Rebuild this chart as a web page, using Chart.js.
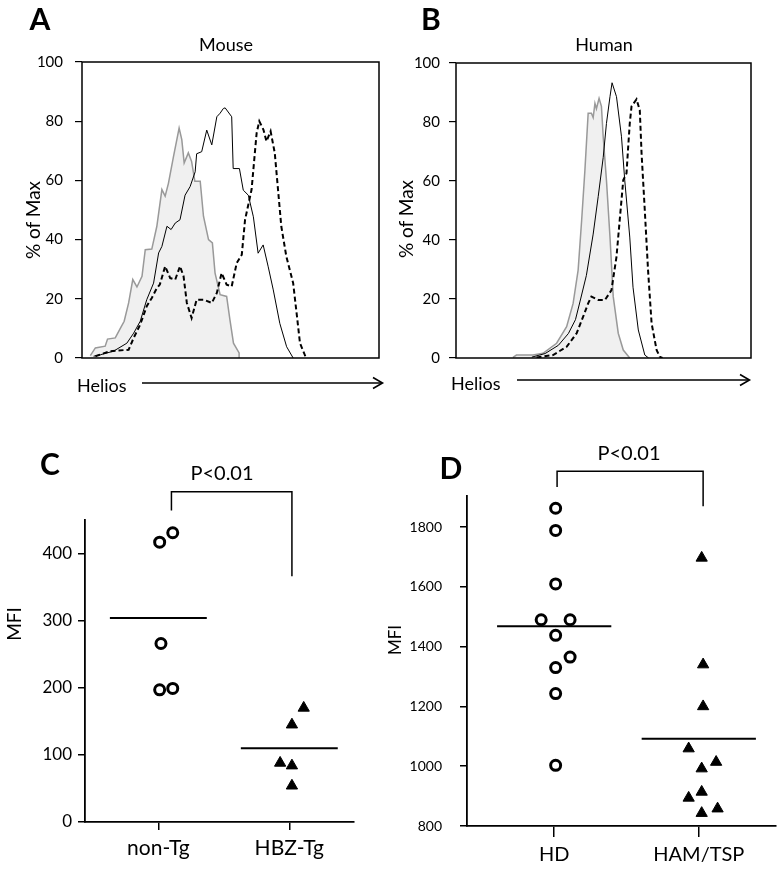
<!DOCTYPE html>
<html>
<head>
<meta charset="utf-8">
<script src="https://cdn.jsdelivr.net/npm/chart.js@4.4.0/dist/chart.umd.min.js"></script>
<style>
  body { margin: 0; background: #fff; }
  #page { position: relative; width: 784px; height: 870px; overflow: hidden; font-family: Lato, sans-serif; color: #000; }
  #page canvas { position: absolute; }
  .lbl { position: absolute; white-space: nowrap; line-height: 1; }
</style>
</head>
<body>
<div id="page">
  <canvas id="chartA" width="392" height="400" style="left:0;top:0;width:392px;height:400px"></canvas>
  <canvas id="chartB" width="392" height="400" style="left:392px;top:0;width:392px;height:400px"></canvas>
  <canvas id="chartC" width="392" height="450" style="left:0;top:420px;width:392px;height:450px"></canvas>
  <canvas id="chartD" width="392" height="450" style="left:392px;top:420px;width:392px;height:450px"></canvas>
  <svg width="784" height="870" style="position:absolute;left:0;top:0;pointer-events:none">
    <g stroke="#000" stroke-width="1.6" fill="none">
      <line x1="142" y1="383" x2="382" y2="383"/>
      <polyline points="373,377.5 382.5,383 373,388.5"/>
      <line x1="517" y1="380" x2="749" y2="380"/>
      <polyline points="740,374.5 749.5,380 740,385.5"/>
    </g>
  </svg>
</div>
<script>
// ---- data ----
// histograms: x = Helios intensity (0-100 across the plot), y = % of Max
const histTicks = [0, 20, 40, 60, 80, 100];

// A: mouse
const mouseIsoX = [2.8, 4.5, 7.8, 8.6, 11.2, 12.9, 14.2, 15.7, 17.1, 18.5, 20.2, 21.3, 23.5, 25.2, 26.9, 28.0, 29.1, 30.8, 32.7, 33.6, 34.4, 35.8, 36.9, 38.0, 39.8, 40.9, 42.6, 43.9, 44.8, 46.5, 48.7, 49.8, 51.0, 52.9, 52.9];
const mouseIsoY = [0.8, 3.4, 4.0, 6.4, 6.8, 10.0, 12.4, 18.6, 26.5, 24.0, 27.6, 36.6, 36.8, 44.5, 56.9, 54.7, 59.0, 68.0, 77.7, 73.8, 65.9, 69.3, 66.4, 59.7, 59.7, 47.9, 40.0, 38.9, 28.7, 21.4, 20.8, 13.0, 5.0, 1.7, 0];
const mouseNonTgX = [3.9, 6.2, 10.6, 15.1, 17.4, 19.6, 21.8, 24.1, 25.8, 26.9, 28.6, 30.0, 31.4, 33.0, 34.7, 36.4, 38.1, 38.6, 40.3, 42.0, 43.7, 45.4, 46.5, 47.6, 48.2, 50.4, 50.9, 53.0, 54.3, 56.0, 57.7, 59.3, 61.0, 62.7, 64.4, 66.6, 68.9, 71.1];
const mouseNonTgY = [0.6, 1.1, 2.3, 5.0, 8.4, 12.4, 19.7, 25.3, 35.5, 37.7, 44.5, 43.4, 45.6, 46.7, 55.0, 57.9, 62.9, 69.0, 69.7, 77.0, 72.0, 81.5, 82.7, 84.3, 84.5, 81.5, 64.0, 64.0, 56.7, 55.0, 47.7, 35.4, 38.2, 30.8, 23.0, 11.7, 3.8, 0];
const mouseHbzX = [4.5, 9.5, 15.7, 17.4, 19.6, 21.8, 23.5, 25.2, 26.2, 28.0, 29.7, 31.4, 33.0, 34.2, 35.3, 36.9, 38.6, 40.9, 43.7, 45.4, 47.0, 48.7, 50.4, 52.1, 53.8, 54.9, 56.0, 57.1, 58.2, 58.8, 59.7, 61.1, 62.1, 63.5, 64.9, 66.0, 67.1, 68.8, 71.1, 72.5, 73.4, 75.0, 75.4];
const mouseHbzY = [0.6, 2.3, 2.8, 6.8, 11.3, 17.5, 20.3, 23.6, 24.8, 31.0, 27.0, 26.5, 31.0, 27.6, 18.6, 13.5, 19.7, 19.7, 18.6, 22.0, 28.7, 24.8, 24.2, 32.1, 34.9, 46.7, 51.8, 56.9, 69.3, 76.0, 80.0, 77.1, 73.2, 76.6, 69.3, 56.9, 44.5, 34.3, 25.3, 13.0, 5.0, 1.1, 0];

// B: human
const humanIsoX = [19.3, 20.5, 26.1, 29.5, 34.1, 37.5, 39.7, 41.4, 42.6, 43.7, 44.8, 45.9, 46.5, 47.1, 47.6, 48.5, 49.3, 49.9, 51.0, 52.2, 53.3, 55.0, 56.7, 58.9];
const humanIsoY = [0.2, 1.0, 1.0, 1.6, 5.0, 10.6, 18.5, 29.8, 46.8, 63.7, 83.0, 83.0, 81.5, 86.3, 84.5, 88.0, 85.3, 75.0, 60.3, 41.0, 20.8, 8.4, 2.7, 0];
const humanHdX = [25.7, 30.2, 34.7, 38.1, 40.5, 42.0, 44.2, 46.5, 48.2, 49.9, 51.0, 52.2, 52.9, 54.4, 56.1, 57.2, 58.9, 60.0, 61.8, 64.0, 65.3];
const humanHdY = [0.3, 1.5, 4.3, 8.3, 13.0, 19.0, 28.0, 42.0, 54.7, 68.0, 79.5, 88.6, 93.3, 88.6, 75.0, 60.3, 41.0, 24.0, 9.5, 1.0, 0];
const humanHamX = [27.3, 32.9, 37.5, 40.9, 43.1, 44.8, 45.9, 48.2, 50.5, 52.7, 54.4, 55.5, 56.7, 57.8, 58.3, 58.9, 59.5, 61.2, 62.3, 62.9, 64.0, 65.1, 66.3, 68.0, 69.1, 70.0];
const humanHamY = [0.2, 1.0, 3.8, 8.4, 14.0, 18.5, 20.8, 19.7, 19.7, 23.0, 34.3, 46.8, 60.3, 62.6, 70.5, 79.5, 85.3, 87.7, 84.0, 69.4, 50.0, 29.8, 11.8, 2.7, 0.4, 0];

// C: mouse MFI
const cCategories = ['non-Tg', 'HBZ-Tg'];
const cTicks = [0, 100, 200, 300, 400];
const cNonTg = [417, 431, 266, 197, 199];
const cNonTgJitter = [0.01, 0.11, 0.02, 0.01, 0.11];
const cHbzTg = [170, 145, 88, 84, 54];
const cHbzTgJitter = [0.11, 0.02, -0.07, 0.02, 0.02];
const cMeans = [304, 110];

// D: human MFI
const dCategories = ['HD', 'HAM/TSP'];
const dTicks = [800, 1000, 1200, 1400, 1600, 1800];
const dHD = [1863, 1789, 1610, 1490, 1490, 1438, 1365, 1330, 1243, 1003];
const dHDJitter = [0.01, 0.01, 0.01, -0.09, 0.11, 0.01, 0.11, 0.01, 0.01, 0.01];
const dHam = [1697, 1340, 1200, 1059, 1014, 992, 914, 894, 858, 843];
const dHamJitter = [0.02, 0.03, 0.03, -0.07, 0.12, 0.02, 0.02, -0.07, 0.13, 0.02];
const dMeans = [1468, 1092];

Chart.defaults.font.family = 'Lato, sans-serif';
Chart.defaults.color = '#000';

const page = document.getElementById('page');

// text placed on the page (centre of the text at x, y)
function addLabel(text, x, y, size, opts = {}) {
    const el = document.createElement('div');
    el.className = 'lbl';
    el.textContent = text;
    el.style.left = x + 'px';
    el.style.top = y + 'px';
    el.style.fontSize = size + 'px';
    if (opts.bold) el.style.fontWeight = 'bold';
    const ax = opts.left ? '0' : '-50%';
    el.style.transform = `translate(${ax}, -50%)` + (opts.rotate ? ' rotate(-90deg)' : '');
    page.appendChild(el);
}

function toPoints(xs, ys) {
    return xs.map((x, i) => ({ x: x, y: ys[i] }));
}

// frame around the histogram plot area
const boxPlugin = {
    id: 'box',
    afterDatasetsDraw(chart) {
        const { ctx, chartArea: a } = chart;
        ctx.save();
        ctx.strokeStyle = '#000';
        ctx.lineWidth = 1.5;
        ctx.strokeRect(a.left, a.top, a.right - a.left, a.bottom - a.top);
        ctx.restore();
    }
};

// significance bracket, given in data units
const bracketPlugin = {
    id: 'bracket',
    afterDraw(chart, args, opts) {
        const x = chart.scales.x, y = chart.scales.y;
        const ctx = chart.ctx;
        const xl = x.getPixelForValue(opts.x1), xr = x.getPixelForValue(opts.x2);
        const yt = y.getPixelForValue(opts.top);
        ctx.save();
        ctx.strokeStyle = '#000';
        ctx.lineWidth = 1.5;
        ctx.beginPath();
        ctx.moveTo(xl, y.getPixelForValue(opts.y1));
        ctx.lineTo(xl, yt);
        ctx.lineTo(xr, yt);
        ctx.lineTo(xr, y.getPixelForValue(opts.y2));
        ctx.stroke();
        ctx.restore();
    }
};

function histChart(id, series, layout) {
    const ds = [
        { data: toPoints(series.hd[0], series.hd[1]), borderColor: '#000', borderWidth: 1 },
        { data: toPoints(series.ham[0], series.ham[1]), borderColor: '#000', borderWidth: 2, borderDash: [5, 3] },
        { data: toPoints(series.iso[0], series.iso[1]), borderColor: '#999', borderWidth: 1.5,
          backgroundColor: '#f0f0f0', fill: 'origin' }
    ];
    ds.forEach(d => { d.showLine = true; d.pointRadius = 0; d.tension = 0; });

    return new Chart(document.getElementById(id), {
        type: 'scatter',
        data: { datasets: ds },
        plugins: [boxPlugin],
        options: {
            responsive: false,
            animation: false,
            layout: { padding: layout.padding },
            plugins: { legend: { display: false }, tooltip: { enabled: false } },
            scales: {
                x: { type: 'linear', min: 0, max: 100, display: false },
                y: {
                    type: 'linear', min: 0, max: 100,
                    afterBuildTicks: s => { s.ticks = histTicks.map(v => ({ value: v })); },
                    afterFit: s => { s.width = layout.yWidth; },
                    border: { display: false },
                    grid: { drawOnChartArea: false, tickLength: 7, color: '#000', lineWidth: 1.2 },
                    ticks: { padding: layout.tickPad, font: { size: 15 } }
                }
            }
        }
    });
}

function dotChart(id, cfg) {
    const jitterPts = (vals, jit, cat) => vals.map((v, i) => ({ x: cat + jit[i], y: v }));
    const meanLine = (m, cat) => [{ x: cat - cfg.half, y: m }, { x: cat + cfg.half, y: m }];

    return new Chart(document.getElementById(id), {
        type: 'scatter',
        data: {
            datasets: [
                { data: jitterPts(cfg.groups[0], cfg.jitter[0], 1), pointStyle: 'circle', pointRadius: 5,
                  pointBorderWidth: 3, pointBorderColor: '#000', pointBackgroundColor: '#fff' },
                { data: jitterPts(cfg.groups[1], cfg.jitter[1], 2), pointStyle: 'triangle', pointRadius: 6.5,
                  pointBorderWidth: 1, pointBorderColor: '#000', pointBackgroundColor: '#000' },
                { data: meanLine(cfg.means[0], 1), showLine: true, pointRadius: 0, borderColor: '#000', borderWidth: 2 },
                { data: meanLine(cfg.means[1], 2), showLine: true, pointRadius: 0, borderColor: '#000', borderWidth: 2 }
            ]
        },
        plugins: [bracketPlugin],
        options: {
            responsive: false,
            animation: false,
            layout: { padding: cfg.padding },
            plugins: { legend: { display: false }, tooltip: { enabled: false }, bracket: cfg.bracket },
            scales: {
                x: {
                    type: 'linear', min: cfg.xMin, max: cfg.xMax,
                    afterBuildTicks: s => { s.ticks = [{ value: 1 }, { value: 2 }]; },
                    afterFit: s => { s.height = cfg.xHeight; },
                    border: { color: '#000', width: 1.8 },
                    grid: { drawOnChartArea: false, tickLength: cfg.xTickLen, color: '#000', lineWidth: 1.5 },
                    ticks: { padding: 6, font: { size: cfg.catSize }, callback: v => cfg.categories[v - 1] }
                },
                y: {
                    type: 'linear', min: cfg.yMin, max: cfg.yMax,
                    afterBuildTicks: s => { s.ticks = cfg.ticks.map(v => ({ value: v })); },
                    afterFit: s => { s.width = cfg.yWidth; },
                    border: { color: '#000', width: 1.8 },
                    grid: { drawOnChartArea: false, tickLength: 7, color: '#000', lineWidth: 1.5 },
                    ticks: { padding: cfg.tickPad, font: { size: cfg.tickSize }, callback: v => String(v) }
                }
            }
        }
    });
}

// A
histChart('chartA',
    { iso: [mouseIsoX, mouseIsoY], hd: [mouseNonTgX, mouseNonTgY], ham: [mouseHbzX, mouseHbzY] },
    { padding: { left: 0, right: 13, top: 62, bottom: 42 }, yWidth: 82, tickPad: 12 });

// B
histChart('chartB',
    { iso: [humanIsoX, humanIsoY], hd: [humanHdX, humanHdY], ham: [humanHamX, humanHamY] },
    { padding: { left: 0, right: 33, top: 63, bottom: 42 }, yWidth: 64, tickPad: 9 });

// C
dotChart('chartC', {
    categories: cCategories, ticks: cTicks,
    groups: [cNonTg, cHbzTg], jitter: [cNonTgJitter, cHbzTgJitter], means: cMeans, half: 0.37,
    xMin: 0.44, xMax: 2.494, yMin: 0, yMax: 450,
    padding: { left: 0, right: 38, top: 100, bottom: 0 }, yWidth: 85, xHeight: 48,
    xTickLen: 8, tickPad: 6, tickSize: 17, catSize: 21,
    bracket: { x1: 1.1, x2: 2.02, top: 492, y1: 464, y2: 366 }
});

// D
dotChart('chartD', {
    categories: dCategories, ticks: dTicks,
    groups: [dHD, dHam], jitter: [dHDJitter, dHamJitter], means: dMeans, half: 0.395,
    xMin: 0.397, xMax: 2.534, yMin: 800, yMax: 1904,
    padding: { left: 0, right: 5, top: 76, bottom: 0 }, yWidth: 75, xHeight: 44,
    xTickLen: 11, tickPad: 18, tickSize: 14, catSize: 20,
    bracket: { x1: 1.02, x2: 2.03, top: 1987, y1: 1934, y2: 1870 }
});

// panel letters, titles and axis titles
addLabel('A', 40, 18, 30, { bold: true });
addLabel('Mouse', 226, 44, 18);
addLabel('% of Max', 32, 220, 19, { rotate: true });
addLabel('Helios', 77, 385, 18, { left: true });

addLabel('B', 431, 18, 30, { bold: true });
addLabel('Human', 604, 44, 18);
addLabel('% of Max', 405, 219, 19, { rotate: true });
addLabel('Helios', 451, 383, 18, { left: true });

addLabel('C', 50, 463, 30, { bold: true });
addLabel('P<0.01', 222, 472, 20);
addLabel('MFI', 13, 624, 19, { rotate: true });

addLabel('D', 451, 467, 30, { bold: true });
addLabel('P<0.01', 629, 452, 20);
addLabel('MFI', 394, 640, 17, { rotate: true });
</script>
</body>
</html>
